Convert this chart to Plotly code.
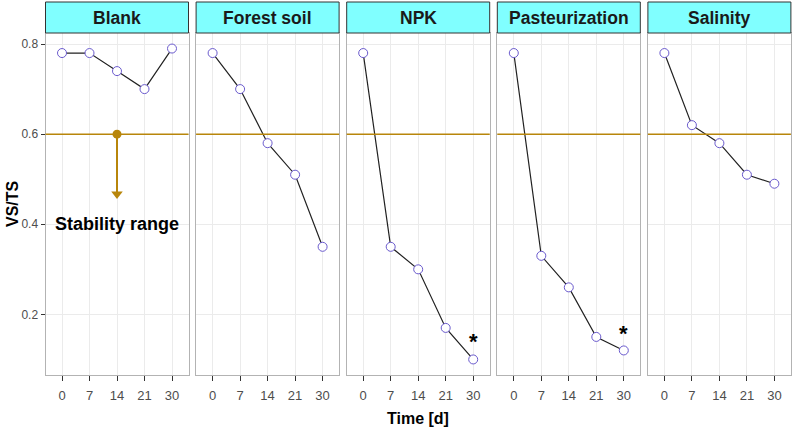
import plotly.graph_objects as go

# ---- data ----
days = ["0", "7", "14", "21", "30"]
panels = ["Blank", "Forest soil", "NPK", "Pasteurization", "Salinity"]
blank = [0.78, 0.78, 0.74, 0.70, 0.79]
forest_soil = [0.78, 0.70, 0.58, 0.51, 0.35]
npk = [0.78, 0.35, 0.30, 0.17, 0.10]
pasteurization = [0.78, 0.33, 0.26, 0.15, 0.12]
salinity = [0.78, 0.62, 0.58, 0.51, 0.49]
series = [blank, forest_soil, npk, pasteurization, salinity]
threshold = 0.6
arrow_end = 0.455
label_y = 0.40
label_text = "Stability range"
star_panels = ["NPK", "Pasteurization"]
star_y = [0.14, 0.158]
yticks = [0.2, 0.4, 0.6, 0.8]

W, H = 803, 432
FONT = "Liberation Sans, Arial, Helvetica, sans-serif"
GOLD = "#B8860B"

fig = go.Figure()
left0, step, pw = 45.5, 150.6, 143.0
ytop, ybot = 33.0, 375.0
strip_top = 2.0
ydom = [(H - ybot) / H, (H - ytop) / H]

for i, (name, vals) in enumerate(zip(panels, series)):
    n = "" if i == 0 else str(i + 1)
    xa, ya = "x" + n, "y" + n
    x0 = (left0 + i * step) / W
    x1 = (left0 + i * step + pw) / W
    fig.update_layout(**{
        "xaxis" + n: dict(domain=[x0, x1], type="category", categoryorder="array",
                          categoryarray=days, range=[-0.6, 4.6], showgrid=True,
                          gridcolor="#EBEBEB", gridwidth=1, showline=True, mirror=True,
                          linecolor="#B3B3B3", linewidth=1, ticks="outside", ticklen=5,
                          tickcolor="#333333", tickwidth=1, ticklabelstandoff=3,
                          tickfont=dict(family=FONT, size=13, color="#4D4D4D"),
                          zeroline=False, anchor=ya, fixedrange=True),
        "yaxis" + n: dict(domain=ydom, range=[0.0655, 0.8245], tickvals=yticks,
                          ticktext=[f"{v:.1f}" for v in yticks],
                          showgrid=True, gridcolor="#EBEBEB", gridwidth=1,
                          showline=True, mirror=True, linecolor="#B3B3B3", linewidth=1,
                          ticks="outside" if i == 0 else "", ticklen=4, tickcolor="#333333",
                          showticklabels=(i == 0),
                          tickfont=dict(family=FONT, size=12, color="#4D4D4D"),
                          zeroline=False, anchor=xa, fixedrange=True),
    })
    # threshold line
    fig.add_shape(type="line", xref=xa + " domain", yref=ya, x0=0, x1=1,
                  y0=threshold, y1=threshold, line=dict(color=GOLD, width=1.5))
    # strip
    fig.add_shape(type="rect", xref="paper", yref="paper", x0=x0, x1=x1,
                  y0=(H - ytop) / H, y1=(H - strip_top) / H,
                  fillcolor="#80FFFF", line=dict(color="#333333", width=1))
    fig.add_annotation(text=f"<b>{name}</b>", xref="paper", yref="paper",
                       x=(x0 + x1) / 2, y=(H - (ytop + strip_top) / 2) / H,
                       showarrow=False, font=dict(family=FONT, size=17.5, color="#1A1A1A"),
                       xanchor="center", yanchor="middle")
    # data
    fig.add_trace(go.Scatter(x=days, y=vals, xaxis=xa, yaxis=ya, mode="lines+markers",
                             line=dict(color="#222222", width=1.2),
                             marker=dict(size=9, color="white",
                                         line=dict(color="#6A5ACD", width=1)),
                             showlegend=False, hoverinfo="skip"))
    if name in star_panels:
        sy = star_y[star_panels.index(name)]
        fig.add_annotation(text="<b>*</b>", x=days.index(days[-1]), y=sy, xref=xa, yref=ya,
                           showarrow=False, font=dict(family=FONT, size=22, color="black"),
                           xanchor="center", yanchor="middle")

# stability arrow in Blank panel
fig.add_trace(go.Scatter(x=[days[2], days[2]], y=[threshold, arrow_end + 0.012], xaxis="x", yaxis="y",
                         mode="lines", line=dict(color=GOLD, width=2),
                         showlegend=False, hoverinfo="skip"))
fig.add_trace(go.Scatter(x=[days[2]], y=[threshold], xaxis="x", yaxis="y", mode="markers",
                         marker=dict(size=9, color=GOLD), showlegend=False, hoverinfo="skip"))
fig.add_trace(go.Scatter(x=[days[2]], y=[arrow_end + 0.012], xaxis="x", yaxis="y", mode="markers",
                         marker=dict(size=10, color=GOLD, symbol="triangle-down"),
                         showlegend=False, hoverinfo="skip"))
fig.add_annotation(text=f"<b>{label_text}</b>", x=2, y=label_y, xref="x", yref="y",
                   showarrow=False, font=dict(family=FONT, size=18, color="black"),
                   xanchor="center", yanchor="middle")

# axis titles
fig.add_annotation(text="<b>Time [d]</b>", xref="paper", yref="paper",
                   x=(left0 + (4 * step + pw) / 2) / W, y=(H - 418) / H, showarrow=False,
                   font=dict(family=FONT, size=16, color="black"),
                   xanchor="center", yanchor="middle")
fig.add_annotation(text="<b>VS/TS</b>", xref="paper", yref="paper",
                   x=12 / W, y=(H - (ytop + ybot) / 2) / H, showarrow=False, textangle=-90,
                   font=dict(family=FONT, size=16, color="black"),
                   xanchor="center", yanchor="middle")

fig.update_layout(width=W, height=H, margin=dict(l=0, r=0, t=0, b=0),
                  paper_bgcolor="white", plot_bgcolor="white", showlegend=False)

fig.write_html("out.html")
